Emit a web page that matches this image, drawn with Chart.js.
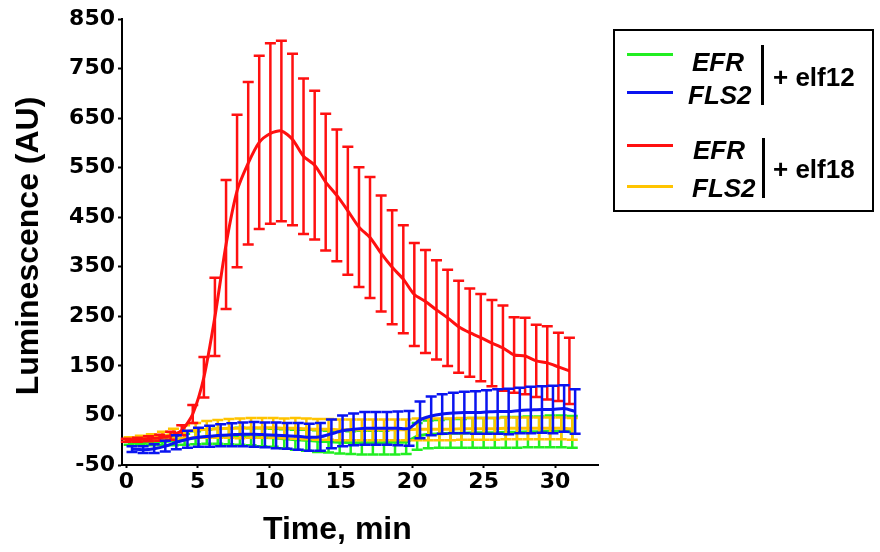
<!DOCTYPE html>
<html>
<head>
<meta charset="utf-8">
<script src="https://cdn.jsdelivr.net/npm/chart.js@4.4.1/dist/chart.umd.min.js"></script>
<style>
  body { margin: 0; background: #fff; }
  #wrap { position: relative; width: 880px; height: 552px; font-family: "Liberation Sans", Arial, sans-serif; }
  #chart { position: absolute; left: 0; top: 0; }
  .t { position: absolute; font-weight: bold; color: #000; white-space: nowrap; }
  .axis-title { font-size: 32px; line-height: 32px; }
  #legend { position: absolute; left: 613px; top: 29px; width: 261px; height: 183px; box-sizing: border-box; border: 2px solid #000; }
  .lg { font-size: 26px; line-height: 26px; }
  .lg i { font-style: italic; }
  .swatch { position: absolute; height: 3px; width: 46px; }
  .bracket { position: absolute; width: 3px; background: #000; }
</style>
</head>
<body>
<div id="wrap">
  <canvas id="chart" width="880" height="552"></canvas>

  <div class="t axis-title" style="left:263px; top:512px;">Time, min</div>
  <div class="t axis-title" style="left:-123px; top:230px; width:300px; height:32px; text-align:center; transform:rotate(-90deg);">Luminescence (AU)</div>

  <div id="legend"></div>
  <div class="swatch" style="left:627px; top:53px; background:#22ee22;"></div>
  <div class="swatch" style="left:627px; top:91px; background:#0a14f0;"></div>
  <div class="swatch" style="left:627px; top:144px; background:#ff1010;"></div>
  <div class="swatch" style="left:627px; top:185px; background:#ffc400;"></div>
  <div class="t lg" style="left:692px; top:49px;"><i>EFR</i></div>
  <div class="t lg" style="left:688px; top:82px;"><i>FLS2</i></div>
  <div class="bracket" style="left:761px; top:45px; height:60px;"></div>
  <div class="t lg" style="left:773px; top:64px;">+ elf12</div>
  <div class="t lg" style="left:693px; top:137px;"><i>EFR</i></div>
  <div class="t lg" style="left:692px; top:175px;"><i>FLS2</i></div>
  <div class="bracket" style="left:762px; top:138px; height:60px;"></div>
  <div class="t lg" style="left:773px; top:156px;">+ elf18</div>
</div>

<script>
// read times (min)
const minutes = [0, 0.78, 1.55, 2.33, 3.1, 3.88, 4.65, 5.43, 6.2, 6.98,
  7.75, 8.53, 9.3, 10.08, 10.85, 11.63, 12.4, 13.18, 13.95, 14.73,
  15.5, 16.28, 17.05, 17.83, 18.6, 19.38, 20.15, 20.93, 21.7, 22.48,
  23.25, 24.03, 24.8, 25.58, 26.35, 27.13, 27.9, 28.68, 29.45, 30.23, 31.0];

// each line was read a little later than the first one (min)
const lagEfrElf18 = 0;
const lagEfrElf12 = 0.2;
const lagFls2Elf18 = 0.2;
const lagFls2Elf12 = 0.4;

// EFR + elf18 (red)
const efrElf18 = [0, 1, 3, 5, 9, 20, 53, 127, 249, 395,
  503, 559, 601, 619, 624, 607, 573, 555, 521, 494,
  463, 430, 409, 377, 349, 325, 294, 280, 263, 247,
  229, 217, 207, 196, 186, 172, 170, 160, 156, 148, 140];
const efrElf18Err = [3, 4, 5, 6, 8, 10, 18, 41, 79, 130,
  154, 164, 175, 182, 182, 173, 157, 150, 138, 133,
  129, 121, 122, 117, 115, 109, 104, 104, 100, 97,
  93, 89, 88, 87, 86, 76, 77, 73, 74, 69, 67];

// FLS2 + elf12 (blue)
const fls2Elf12 = [-18, -19, -17, -12, -4, 2, 6, 8, 10, 11,
  12, 12, 11, 10, 9, 8, 6, 7, 13, 19,
  22, 24, 24, 24, 24, 24, 41, 49, 53, 55,
  56, 56, 57, 58, 58, 60, 61, 62, 62, 64, 58];
const fls2Elf12Err = [6, 7, 9, 11, 14, 17, 19, 21, 22, 23,
  24, 25, 25, 26, 26, 27, 27, 28, 29, 31,
  32, 33, 33, 33, 34, 35, 37, 39, 40, 41,
  42, 43, 44, 45, 46, 46, 47, 47, 48, 47, 45];

// EFR + elf12 (green)
const efrElf12 = [-5, -5, -4, -3, -1, 2, 5, 7, 8, 8,
  8, 7, 6, 5, 3, 1, 0, -2, -3, -4,
  -5, -5, -5, -5, -4, -3, 8, 12, 13, 14,
  14, 15, 15, 15, 16, 16, 17, 17, 18, 18, 17];
const efrElf12Err = [4, 5, 6, 7, 9, 11, 13, 14, 15, 16,
  17, 17, 18, 18, 19, 20, 21, 22, 22, 23,
  23, 24, 24, 24, 25, 25, 27, 28, 28, 29,
  29, 30, 30, 30, 31, 31, 31, 31, 32, 32, 32];

// FLS2 + elf18 (yellow)
const fls2Elf18 = [2, 4, 6, 9, 13, 17, 20, 22, 23, 24,
  24, 25, 25, 25, 24, 24, 23, 22, 22, 21,
  21, 21, 21, 21, 21, 21, 22, 22, 22, 22,
  23, 23, 23, 23, 24, 24, 24, 24, 24, 24, 23];
const fls2Elf18Err = [4, 5, 6, 8, 10, 13, 15, 17, 18, 19,
  20, 20, 20, 20, 20, 21, 21, 21, 21, 21,
  21, 21, 21, 21, 21, 21, 22, 22, 22, 22,
  22, 22, 22, 22, 22, 22, 22, 22, 22, 22, 22];

const xTicks = [0, 5, 10, 15, 20, 25, 30];
const yTicks = [-50, 0, 50, 100, 150, 200, 250, 300, 350, 400, 450, 500, 550, 600, 650, 700, 750, 800, 850];
const yLabelled = [-50, 50, 150, 250, 350, 450, 550, 650, 750, 850];

function points(values, lag) {
  return values.map((v, i) => ({ x: minutes[i] + lag, y: v }));
}

function series(label, values, errors, lag, color) {
  return {
    label: label,
    data: points(values, lag),
    errors: errors,
    borderColor: color,
    borderWidth: 3,
    pointRadius: 0,
    tension: 0.25,
    fill: false
  };
}

// vertical error bars with caps, drawn right after their own line
const errorBars = {
  id: 'errorBars',
  afterDatasetDraw(chart, args) {
    const ds = chart.data.datasets[args.index];
    const xs = chart.scales.x;
    const ys = chart.scales.y;
    const ctx = chart.ctx;
    ctx.save();
    ctx.strokeStyle = ds.borderColor;
    ctx.lineWidth = 2.5;
    ds.data.forEach((p, i) => {
      const px = xs.getPixelForValue(p.x);
      const top = ys.getPixelForValue(p.y + ds.errors[i]);
      const bot = ys.getPixelForValue(p.y - ds.errors[i]);
      ctx.beginPath();
      ctx.moveTo(px, top); ctx.lineTo(px, bot);
      ctx.moveTo(px - 5.5, top); ctx.lineTo(px + 5.5, top);
      ctx.moveTo(px - 5.5, bot); ctx.lineTo(px + 5.5, bot);
      ctx.stroke();
    });
    ctx.restore();
  }
};

const tickFont = { family: 'DejaVu Sans', size: 22, weight: 'bold' };

new Chart(document.getElementById('chart'), {
  type: 'line',
  data: {
    // first dataset ends up on top
    datasets: [
      series('FLS2 + elf12', fls2Elf12, fls2Elf12Err, lagFls2Elf12, '#0a14f0'),
      series('EFR + elf18', efrElf18, efrElf18Err, lagEfrElf18, '#ff1010'),
      series('FLS2 + elf18', fls2Elf18, fls2Elf18Err, lagFls2Elf18, '#ffc400'),
      series('EFR + elf12', efrElf12, efrElf12Err, lagEfrElf12, '#22ee22')
    ]
  },
  options: {
    responsive: false,
    animation: false,
    devicePixelRatio: 1,
    layout: { padding: { top: 19, right: 282, left: 0, bottom: 0 } },
    plugins: { legend: { display: false }, tooltip: { enabled: false } },
    scales: {
      x: {
        type: 'linear',
        min: -0.3,
        max: 33,
        afterBuildTicks: s => { s.ticks = xTicks.map(v => ({ value: v })); },
        afterFit: s => { s.height = 87; },
        grid: { drawOnChartArea: false, drawTicks: true, tickLength: 3, tickColor: '#000', tickWidth: 2 },
        border: { display: true, color: '#000', width: 2 },
        ticks: { color: '#000', font: tickFont, padding: 1, maxRotation: 0 }
      },
      y: {
        min: -50,
        max: 850,
        afterBuildTicks: s => { s.ticks = yTicks.map(v => ({ value: v })); },
        afterFit: s => { s.width = 122; },
        grid: { drawOnChartArea: false, drawTicks: true, tickLength: 4, tickColor: '#000', tickWidth: 2 },
        border: { display: true, color: '#000', width: 2 },
        ticks: {
          color: '#000',
          font: tickFont,
          padding: 3,
          callback: v => yLabelled.includes(v) ? String(v) : ''
        }
      }
    }
  },
  plugins: [errorBars]
});
</script>
</body>
</html>
